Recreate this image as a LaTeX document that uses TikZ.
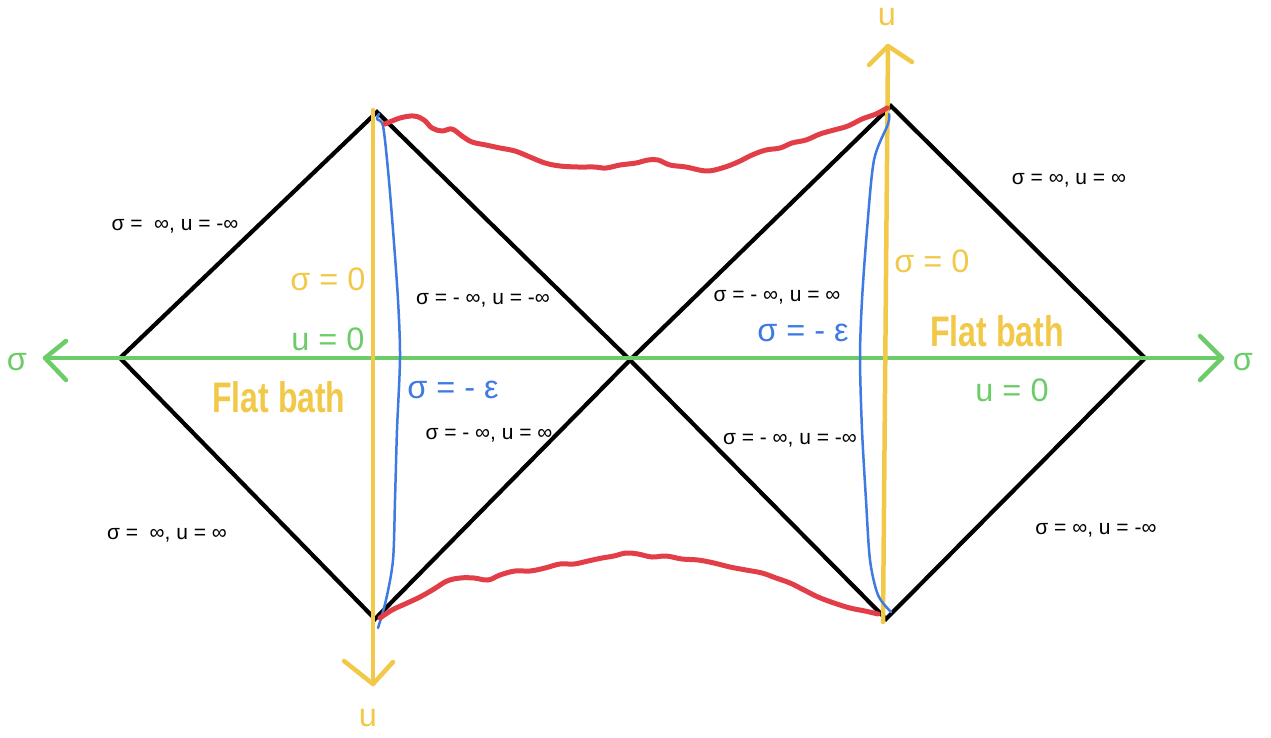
\documentclass[tikz,border=0pt]{standalone}
\usepackage{fontspec}
\setmainfont{Liberation Sans}
\definecolor{yel}{RGB}{242,200,72}
\definecolor{grn}{RGB}{108,204,104}
\definecolor{blu}{RGB}{62,122,226}
\definecolor{rd}{RGB}{226,62,72}
\begin{document}
\begin{tikzpicture}[x=1pt,y=-1pt,
 edge/.style={line width=4.2pt,black,line cap=round,line join=miter},
 gaxis/.style={line width=4.5pt,grn,line cap=round,line join=round},
 yaxis/.style={line width=4.5pt,yel,line cap=round,line join=round},
 bline/.style={line width=2.5pt,blu,line cap=round,line join=round},
 rline/.style={line width=5pt,rd,line cap=round,line join=round},
 lbl/.style={font=\fontsize{21}{24}\selectfont,inner sep=0pt,text=black},
 big/.style={font=\fontsize{32.5}{35}\selectfont,inner sep=0pt},
 bath/.style={inner sep=0pt,text=yel},
]
\useasboundingbox (0,0) rectangle (1271,737);
% vertices
\coordinate (L) at (120,358);
\coordinate (LT) at (377,112);
\coordinate (LB) at (375,619);
\coordinate (C) at (630,360);
\coordinate (RT) at (891,106);
\coordinate (RB) at (886,619);
\coordinate (R) at (1145,358);
% axes
\coordinate (gl) at (45,358);
\coordinate (gr) at (1222,358);
\coordinate (yl1) at (373,110);
\coordinate (yl2) at (373,684);
\coordinate (yr1) at (883,622);
\coordinate (yr2) at (888,46);
% black diamonds
\draw[edge] (L) -- (LT) -- (C) -- (LB) -- cycle;
\draw[edge] (C) -- (RT) -- (R) -- (RB) -- cycle;
% green axis
\draw[gaxis] (gl) -- (gr);
\draw[gaxis] (66,341) -- (gl) -- (66,380);
\draw[gaxis] (1200,336) -- (gr) -- (1200,380);
% yellow axes
\draw[yaxis] (yl1) -- (yl2);
\draw[yaxis] (344,661) -- (yl2) -- (393,662);
\draw[yaxis] (yr1) -- (yr2);
\draw[yaxis] (869,65) -- (yr2) -- (912,62);
% blue curves
\draw[bline] plot[smooth,tension=0.5] coordinates {(379,114) (377,119) (383,126) (388,170) (393,230) (398,300) (400,358) (397,430) (395,500) (393,560) (386,600) (378,628)};
\draw[bline] plot[smooth,tension=0.5] coordinates {(889,114) (888,124) (874,160) (867,230) (862,300) (860,358) (862,430) (866,500) (870,560) (878,595) (891,612)};
% red wiggly curves
\draw[rline] plot[smooth,tension=0.6] coordinates {(385,124) (400,118) (414,116) (424,120) (432,128) (442,131) (452,129) (462,136) (472,142) (486,145) (500,148) (515,151) (530,157) (545,163) (560,166) (578,167) (594,167) (606,168) (620,165) (636,163) (648,160) (658,160) (670,165) (686,167) (706,171) (722,168) (738,162) (752,155) (766,150) (780,148) (792,143) (806,140) (820,134) (834,130) (848,126) (862,119) (876,114) (887,108)};
\draw[rline] plot[smooth,tension=0.6] coordinates {(380,618) (392,610) (405,604) (420,597) (434,589) (447,581) (460,578) (474,578) (488,580) (500,575) (515,571) (530,571) (545,568) (560,564) (574,564) (588,561) (602,558) (614,556) (626,553) (638,554) (652,557) (666,556) (682,559) (698,560) (714,563) (730,567) (746,570) (762,573) (776,578) (790,583) (804,590) (818,597) (834,603) (850,608) (865,611) (878,614)};
% black labels
\node[lbl] (a1) at (175,226) {σ = \ ∞, u = -∞};
\node[lbl] (a2) at (167,535) {σ = \ ∞, u = ∞};
\node[lbl] (a3) at (483,300) {σ = - ∞, u = -∞};
\node[lbl] (a4) at (489,435) {σ = - ∞, u = ∞};
\node[lbl] (a5) at (777,297) {σ = - ∞, u = ∞};
\node[lbl] (a6) at (790,440) {σ = - ∞, u = -∞};
\node[lbl] (a7) at (1069,180) {σ = ∞, u = ∞};
\node[lbl] (a8) at (1096,530) {σ = ∞, u = -∞};
% coloured labels
\node[big,text=yel] (s0l) at (328,279) {σ = 0};
\node[big,text=grn] (u0l) at (328,339) {u = 0};
\node[big,text=blu] (sel) at (453,390) {σ = - ε};
\node[big,text=blu] (ser) at (803,333) {σ = - ε};
\node[big,text=yel] (s0r) at (932,261) {σ = 0};
\node[big,text=grn] (u0r) at (1012,390) {u = 0};
\node[big,text=grn] (sgl) at (17,362) {σ};
\node[big,text=grn] (sgr) at (1243,362) {σ};
\node[big,text=yel] (ut) at (887,17) {u};
\node[big,text=yel] (ub) at (368,718) {u};
\node[bath] (fbl) at (279,397) {\resizebox{133pt}{31pt}{\bfseries Flat bath}};
\node[bath] (fbr) at (997,331) {\resizebox{134pt}{31pt}{\bfseries Flat bath}};
\end{tikzpicture}
\end{document}
